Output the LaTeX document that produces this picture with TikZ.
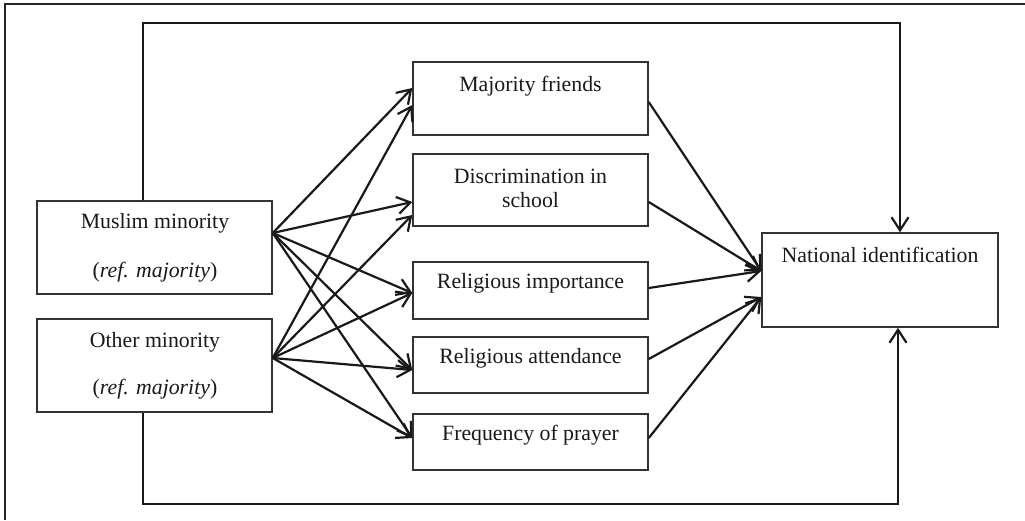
\documentclass[tikz,border=0pt]{standalone}
\usepackage{fontspec}
\setmainfont{Liberation Serif}
\usetikzlibrary{arrows.meta}
\begin{document}
\begin{tikzpicture}[x=1pt,y=-1pt,
  box/.style={draw=black!80, line width=1.5pt, inner sep=0pt},
  txt/.style={font=\fontsize{21.8}{24}\selectfont, inner sep=0pt, text=black!90, align=center},
  arr/.style={line width=2.2pt, draw=black!90, -{Straight Barb[length=13pt,width=17pt,line width=2.2pt]}},
  frame/.style={line width=2pt, draw=black!85}]
\useasboundingbox (0,0) rectangle (1025,520);
\draw[frame] (5,520) -- (5,4) -- (1025,4);
% boxes
\node[box, minimum width=235pt, minimum height=93pt] (mus) at (154.5,247.5) {};
\node[box, minimum width=235pt, minimum height=93pt] (oth) at (154.5,365.5) {};
\node[box, minimum width=235pt, minimum height=73pt] (mf) at (530.5,98.5) {};
\node[box, minimum width=235pt, minimum height=72pt] (dis) at (530.5,190) {};
\node[box, minimum width=235pt, minimum height=57pt] (ri) at (530.5,290.5) {};
\node[box, minimum width=235pt, minimum height=56pt] (ra) at (530.5,365) {};
\node[box, minimum width=235pt, minimum height=56pt] (fp) at (530.5,442) {};
\node[box, minimum width=236pt, minimum height=94pt] (nat) at (880,280) {};
% texts
\node[txt] (mus1) at (155,223) {Muslim minority};
\node[txt] (mus2) at (155,272) {(\textit{ref. majority})};
\node[txt] (oth1) at (155,342) {Other minority};
\node[txt] (oth2) at (155,389) {(\textit{ref. majority})};
\node[txt] (mft) at (530.5,86) {Majority friends};
\node[txt] (dist) at (530.5,188) {Discrimination in\\school};
\node[txt] (rit) at (530.5,283) {Religious importance};
\node[txt] (rat) at (530.5,358) {Religious attendance};
\node[txt] (fpt) at (530.5,435) {Frequency of prayer};
\node[txt] (natt) at (880,255) {National identification};
% left arrows
\draw[arr] ([yshift=14.5pt]mus.east) -- ([yshift=10.5pt]mf.west);
\draw[arr] ([yshift=7.5pt]oth.east) -- ([yshift=-6.5pt]mf.west);
\draw[arr] ([yshift=14.5pt]mus.east) -- ([yshift=-12pt]dis.west);
\draw[arr] ([yshift=7.5pt]oth.east) -- ([yshift=-25pt]dis.west);
\draw[arr] ([yshift=14.5pt]mus.east) -- ([yshift=-2.5pt]ri.west);
\draw[arr] ([yshift=7.5pt]oth.east) -- ([yshift=-2.5pt]ri.west);
\draw[arr] ([yshift=14.5pt]mus.east) -- ([yshift=-5pt]ra.west);
\draw[arr] ([yshift=7.5pt]oth.east) -- ([yshift=-5pt]ra.west);
\draw[arr] ([yshift=14.5pt]mus.east) -- ([yshift=4pt]fp.west);
\draw[arr] ([yshift=7.5pt]oth.east) -- ([yshift=4pt]fp.west);
% right arrows
\draw[arr] ([yshift=-3.5pt]mf.east) -- ([yshift=9pt]nat.west);
\draw[arr] ([yshift=-12pt]dis.east) -- ([yshift=9pt]nat.west);
\draw[arr] ([yshift=2.5pt]ri.east) -- ([yshift=9pt]nat.west);
\draw[arr] ([yshift=6pt]ra.east) -- ([yshift=-17pt]nat.west);
\draw[arr] ([yshift=4pt]fp.east) -- ([yshift=-17pt]nat.west);
% loops
\coordinate (topR) at (900,23);
\coordinate (botR) at (898,504);
\draw[arr] ([xshift=-11.5pt]mus.north) |- (topR) -- (topR |- nat.north);
\draw[arr] ([xshift=-11.5pt]oth.south) |- (botR) -- (botR |- nat.south);
\end{tikzpicture}
\end{document}
